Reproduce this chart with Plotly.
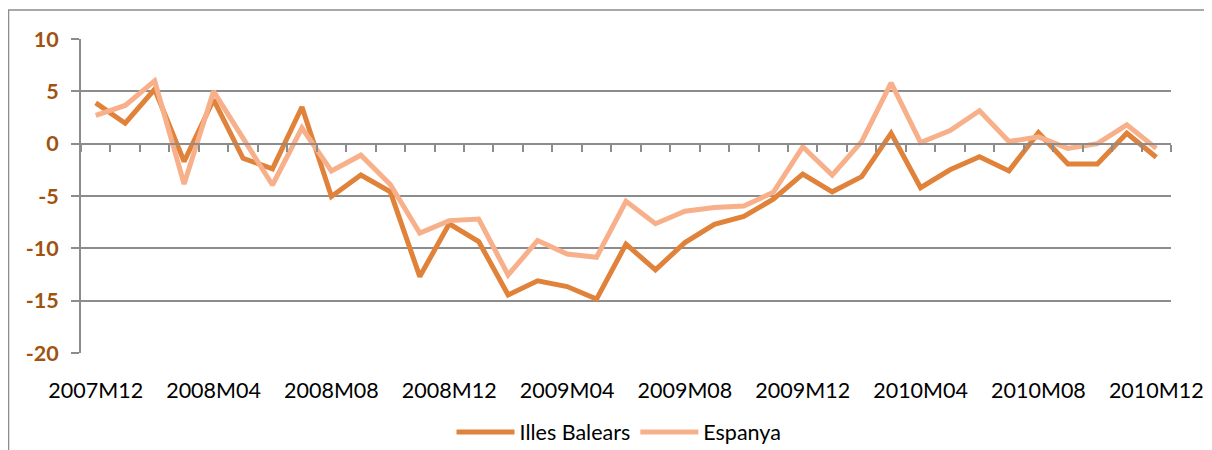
import plotly.graph_objects as go

periods = ["2007M12",
           "2008M01", "2008M02", "2008M03", "2008M04", "2008M05", "2008M06",
           "2008M07", "2008M08", "2008M09", "2008M10", "2008M11", "2008M12",
           "2009M01", "2009M02", "2009M03", "2009M04", "2009M05", "2009M06",
           "2009M07", "2009M08", "2009M09", "2009M10", "2009M11", "2009M12",
           "2010M01", "2010M02", "2010M03", "2010M04", "2010M05", "2010M06",
           "2010M07", "2010M08", "2010M09", "2010M10", "2010M11", "2010M12"]

illes_balears = [3.9, 1.95, 5.2, -1.7, 4.2, -1.4, -2.4, 3.5, -5.05, -3.0, -4.6, -12.7,
                 -7.65, -9.35, -14.45, -13.1, -13.65, -14.85, -9.6, -12.05, -9.45, -7.7,
                 -6.95, -5.3, -2.9, -4.6, -3.15, 1.0, -4.2, -2.5, -1.25, -2.6, 1.05,
                 -1.95, -1.95, 1.0, -1.3]

espanya = [2.7, 3.65, 6.0, -3.85, 5.0, 0.45, -3.95, 1.5, -2.6, -1.1, -3.9, -8.55,
           -7.35, -7.2, -12.55, -9.25, -10.55, -10.85, -5.5, -7.65, -6.45, -6.1,
           -5.95, -4.65, -0.3, -3.0, 0.2, 5.8, 0.1, 1.25, 3.15, 0.2, 0.65,
           -0.45, 0.0, 1.8, -0.45]

tick_labels = ["2007M12", "2008M04", "2008M08", "2008M12", "2009M04",
               "2009M08", "2009M12", "2010M04", "2010M08", "2010M12"]

y_ticks = [10, 5, 0, -5, -10, -15, -20]
y_tick_text = ["10", "5", "0", "-5", "-10", "-15", "-20"]

idx = list(range(len(periods)))
label_idx = [periods.index(t) for t in tick_labels]
boundaries = [i - 0.5 for i in range(len(periods) + 1)]

GRID = "#8C8C8C"
FONT = "Lato, 'Open Sans', sans-serif"

fig = go.Figure()
fig.add_trace(go.Scatter(x=idx, y=illes_balears, mode="lines", name="Illes Balears",
                         line=dict(color="#E0823A", width=5)))
fig.add_trace(go.Scatter(x=idx, y=espanya, mode="lines", name="Espanya",
                         line=dict(color="#F7B08A", width=5)))

fig.update_layout(
    width=1204, height=442,
    margin=dict(l=73, r=41, t=31, b=97),
    paper_bgcolor="white", plot_bgcolor="white",
    font=dict(family=FONT, size=21, color="black"),
    showlegend=True,
    legend=dict(orientation="h", x=0.4936, xanchor="center",
                yref="container", y=0.0407, yanchor="middle",
                font=dict(family=FONT, size=21.5, color="black"), itemwidth=58,
                bgcolor="rgba(0,0,0,0)"),
    xaxis=dict(range=[-0.5, len(periods) - 0.5], tickmode="array",
               tickvals=label_idx, ticktext=tick_labels, showgrid=False,
               showline=False, zeroline=False, ticks="", ticklabelstandoff=22,
               automargin=False,
               tickfont=dict(family=FONT, size=21.5, color="black")),
    xaxis2=dict(range=[-0.5, len(periods) - 0.5], overlaying="x", anchor="free",
                position=2 / 3, tickmode="array", tickvals=boundaries,
                showticklabels=False, showgrid=False, zeroline=False,
                showline=True, linecolor=GRID, linewidth=2, ticks="outside",
                ticklen=7, tickwidth=1.5, tickcolor=GRID, side="bottom"),
    yaxis=dict(range=[-20, 10], tickmode="array", tickvals=y_ticks,
               ticktext=y_tick_text, automargin=False,
               showgrid=True, gridcolor=GRID, gridwidth=1.5, zeroline=False,
               showline=True, linecolor=GRID, linewidth=2, ticks="outside",
               ticklen=8, tickwidth=1.5, tickcolor=GRID, ticklabelstandoff=8,
               tickfont=dict(family=FONT, size=21.5, color="#A0520F", weight="bold")),
    shapes=[dict(type="rect", xref="paper", yref="paper",
                 x0=-0.0665, x1=1.0367, y0=-0.35, y1=1.0924,
                 line=dict(color=GRID, width=1.5), fillcolor="rgba(0,0,0,0)",
                 layer="below")],
)

# invisible trace to activate the zero-line category axis
fig.add_trace(go.Scatter(x=[idx[0]], y=[0], xaxis="x2", mode="none",
                         showlegend=False, hoverinfo="skip"))

fig.write_html("out.html")
